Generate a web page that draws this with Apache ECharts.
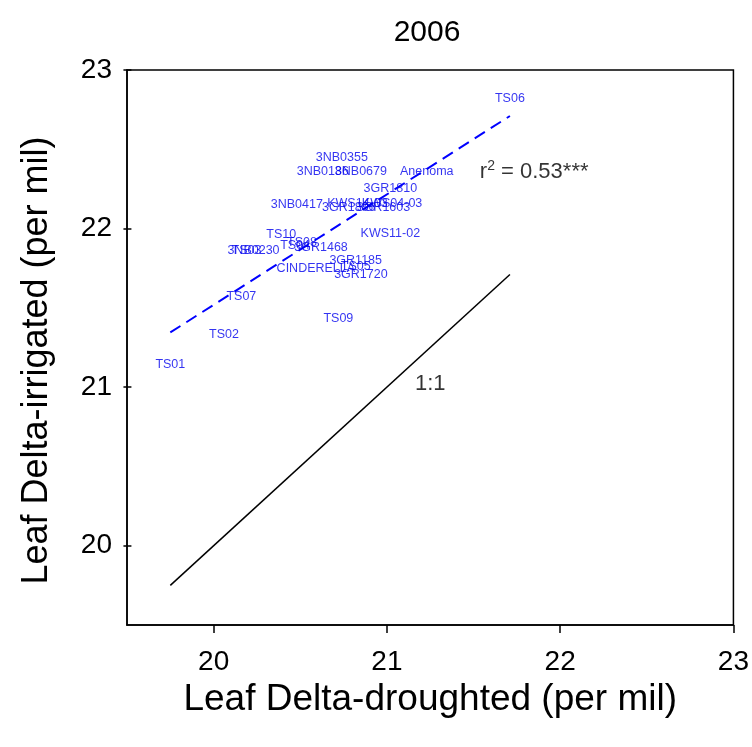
<!DOCTYPE html>
<html>
<head>
<meta charset="utf-8">
<script src="https://cdn.jsdelivr.net/npm/echarts@6/dist/echarts.min.js"></script>
<style>
  html, body { margin: 0; padding: 0; background: #fff; }
  #chart { width: 752px; height: 747px; }
</style>
</head>
<body>
<div id="chart"></div>
<script>
// genotype labels, droughted (x) and irrigated (y) values, per mil
var names = ['TS06', '3NB0355', '3NB0186', '3NB0679', 'Anenoma', '3GR1810', '3NB0417',
  'KWS14-03', 'KWS04-03', '3GR1806', '3GR1603', 'KWS11-02', 'TS10', 'TS08', 'TS04',
  '3NB0230', 'TS03', '3GR1468', '3GR1185', 'CINDERELLA', 'TS05', '3GR1720', 'TS07',
  'TS09', 'TS02', 'TS01']
var droughted = [21.71, 20.74, 20.63, 20.85, 21.23, 21.02, 20.48,
  20.83, 21.03, 20.78, 20.98, 21.02, 20.39, 20.51, 20.47,
  20.23, 20.19, 20.62, 20.82, 20.59, 20.82, 20.85, 20.16,
  20.72, 20.06, 19.75]
var irrigated = [22.82, 22.45, 22.36, 22.36, 22.36, 22.25, 22.15,
  22.16, 22.16, 22.13, 22.13, 21.97, 21.96, 21.91, 21.89,
  21.86, 21.86, 21.88, 21.80, 21.75, 21.76, 21.71, 21.57,
  21.43, 21.33, 21.14]

// fitted regression line and the 1:1 line
var fitX = [19.75, 21.71]
var fitY = [21.345, 22.71]
var oneX = [19.75, 21.71]
var oneY = [19.75, 21.71]

var ticks = [20, 21, 22, 23]
var font = 'Liberation Sans, Arial, sans-serif'

var chart = echarts.init(document.getElementById('chart'))

var points = names.map(function(n, i) {
  return [droughted[i], irrigated[i], n]
})

chart.setOption({
  animation: false,
  title: {
    text: '2006',
    left: 422,
    top: 13,
    textAlign: 'center',
    textStyle: { fontFamily: font, fontSize: 30, fontWeight: 'normal', color: '#000' }
  },
  grid: {
    left: 127,
    right: 15,
    top: 70,
    bottom: 122,
    show: true,
    borderColor: '#000',
    borderWidth: 1.5
  },
  xAxis: {
    type: 'value',
    min: 19.5,
    max: 23,
    name: 'Leaf Delta-droughted (per mil)',
    nameLocation: 'middle',
    nameGap: 49,
    nameTextStyle: { fontFamily: font, fontSize: 37, color: '#000' },
    axisLine: { lineStyle: { color: '#000', width: 1.5 } },
    axisTick: { inside: false, length: 8, customValues: ticks, lineStyle: { color: '#000', width: 1.5 } },
    axisLabel: { customValues: ticks, margin: 23, fontFamily: font, fontSize: 28, color: '#000' },
    splitLine: { show: false }
  },
  yAxis: [
    {
      type: 'value',
      min: 19.5,
      max: 23,
      name: 'Leaf Delta-irrigated (per mil)',
      nameLocation: 'middle',
      nameGap: 72,
      nameTextStyle: { fontFamily: font, fontSize: 36, color: '#000', padding: [0, 26, 0, 0] },
      axisLine: { lineStyle: { color: '#000', width: 1.5 } },
      axisTick: { show: false },
      axisLabel: { customValues: ticks, margin: 15, fontFamily: font, fontSize: 28, color: '#000' },
      splitLine: { show: false }
    },
    {
      // tick-only axis moved onto the left edge, ticks pointing into the plot
      type: 'value',
      position: 'right',
      offset: -610,
      min: 19.5,
      max: 23,
      axisLine: { show: false },
      axisTick: { show: true, inside: false, length: 8, customValues: ticks, lineStyle: { color: '#000', width: 1.5 } },
      axisLabel: { show: false },
      splitLine: { show: false }
    }
  ],
  series: [
    {
      name: 'fit',
      type: 'line',
      data: fitX.map(function(x, i) { return [x, fitY[i]] }),
      showSymbol: false,
      lineStyle: { color: '#0000ff', width: 2, type: [12, 7] },
      z: 2
    },
    {
      name: 'one',
      type: 'line',
      data: oneX.map(function(x, i) { return [x, oneY[i]] }),
      showSymbol: false,
      lineStyle: { color: '#000', width: 1.5 },
      z: 2
    },
    {
      name: 'genotypes',
      type: 'scatter',
      data: points,
      symbolSize: 1,
      itemStyle: { color: 'rgba(0,0,0,0)' },
      label: {
        show: true,
        position: 'inside',
        formatter: function(p) { return p.value[2] },
        fontFamily: font,
        fontSize: 12.5,
        color: '#0000ee'
      },
      z: 3
    },
    {
      name: 'notes',
      type: 'scatter',
      data: [[21.85, 22.36, 'r2'], [21.25, 21.02, '1:1']],
      symbolSize: 1,
      itemStyle: { color: 'rgba(0,0,0,0)' },
      label: {
        show: true,
        position: 'inside',
        fontFamily: font,
        color: '#000',
        formatter: function(p) {
          return p.value[2] === 'r2' ? 'r{s|2} = 0.53***' : '1:1'
        },
        fontSize: 22,
        rich: {
          s: { fontSize: 14, verticalAlign: 'top', padding: [0, 0, 10, 0], fontFamily: font, color: '#000' }
        }
      },
      z: 3
    }
  ]
})
</script>
</body>
</html>
